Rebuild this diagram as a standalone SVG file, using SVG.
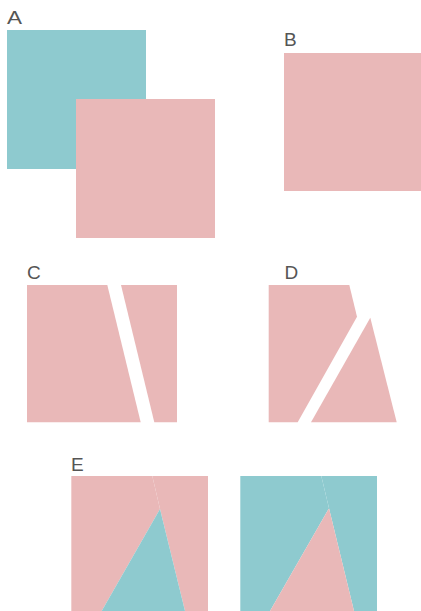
<svg xmlns="http://www.w3.org/2000/svg" width="421" height="611" viewBox="0 0 421 611">
<style>
.teal{fill:#8ECACF}
.pink{fill:#E9B8B8}
.lbl{font-family:"Liberation Sans","Open Sans",sans-serif;font-size:19px;fill:#555555}
</style>
<rect width="421" height="611" fill="#ffffff"/>
<g id="A">
<text class="lbl" x="7" y="24" textLength="15" lengthAdjust="spacingAndGlyphs">A</text>
<rect class="teal" x="7" y="30" width="139" height="139"/>
<rect class="pink" x="76" y="99" width="139" height="139"/>
</g>
<g id="B">
<text class="lbl" x="284" y="46">B</text>
<rect class="pink" x="284" y="53" width="138" height="138"/>
</g>
<g id="C">
<text class="lbl" x="27" y="279">C</text>
<polygon class="pink" points="27,285 107.3,285 140.7,422.3 27,422.3"/>
<polygon class="pink" points="121,285 177,285 177,422.3 154.3,422.3"/>
</g>
<g id="D">
<text class="lbl" x="284.5" y="279">D</text>
<polygon class="pink" points="268.7,285 349.3,285 357,316.7 297.7,422.3 268.7,422.3"/>
<polygon class="pink" points="370.3,317.7 396.7,422.3 311,422.3"/>
</g>
<g id="E">
<text class="lbl" x="71" y="471">E</text>
<polygon class="pink" points="71.3,476 152.3,476 160,509 101.7,611 71.3,611"/>
<polygon class="pink" points="152.3,476 208,476 208,611 185,611 160,509"/>
<polygon class="teal" points="160,509 185,611 101.7,611"/>
</g>
<g id="E2">
<polygon class="teal" points="240.3,476 321.3,476 329,508.3 270,611 240.3,611"/>
<polygon class="teal" points="321.3,476 377,476 377,611 354,611 329,508.3"/>
<polygon class="pink" points="329,508.3 354,611 270,611"/>
</g>
</svg>
